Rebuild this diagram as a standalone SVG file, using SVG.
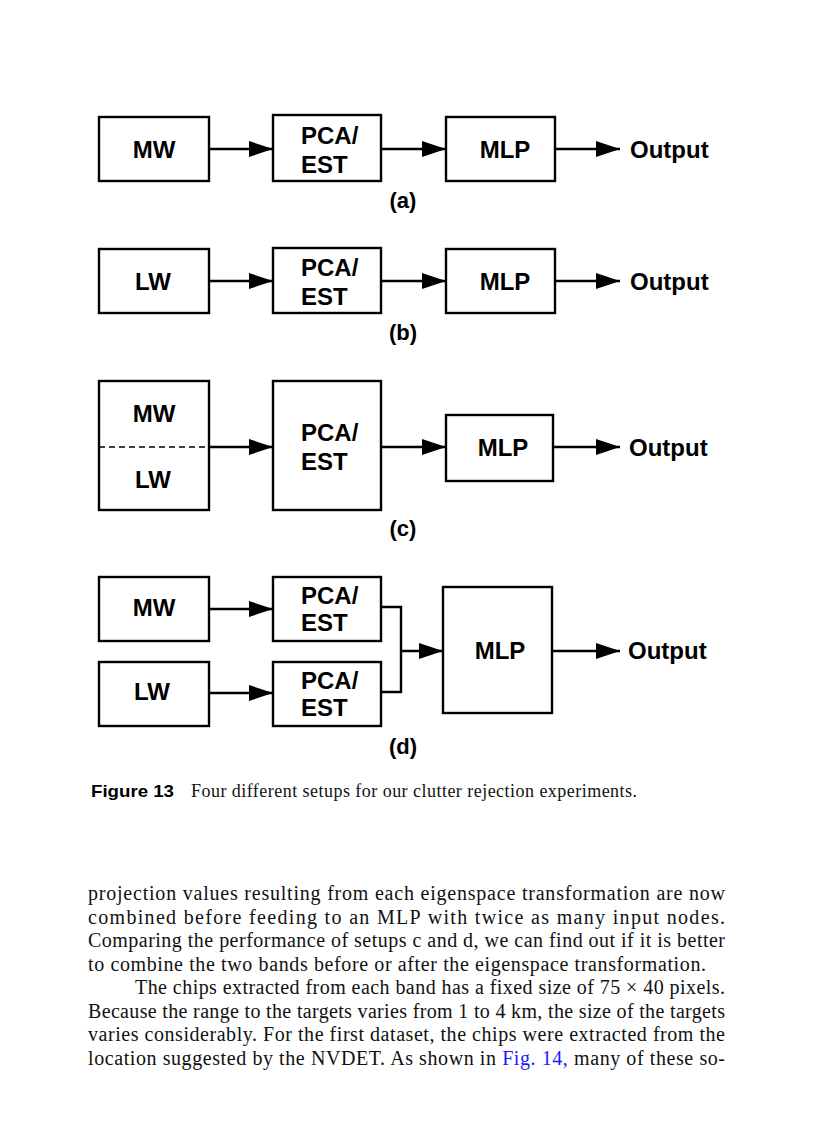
<svg xmlns="http://www.w3.org/2000/svg" width="816" height="1123" viewBox="0 0 816 1123">
<defs>
<marker id="ah" markerWidth="26" markerHeight="18" refX="24" refY="8" orient="auto" markerUnits="userSpaceOnUse">
<path d="M0,0 L24,8 L0,16 Z" fill="#000"/>
</marker>
<style>
.box{fill:#fff;stroke:#000;stroke-width:2.4}
.lbl{font-family:"Liberation Sans",Arial,sans-serif;font-weight:bold;font-size:24px;fill:#000}
.cap{font-family:"Liberation Sans",Arial,sans-serif;font-weight:bold;font-size:22px;fill:#000}
.ln{fill:none;stroke:#000;stroke-width:2.4}
.arr{fill:none;stroke:#000;stroke-width:2.4;marker-end:url(#ah)}
.body{font-family:"Liberation Serif","Times New Roman",serif;font-size:20px;fill:#111}
</style>
</defs>
<rect width="816" height="1123" fill="#fff"/>

<!-- Panel (a) -->
<g id="a-mw"><rect class="box" x="99" y="117" width="110" height="64"/><text class="lbl" x="154" y="158" text-anchor="middle">MW</text></g>
<g id="a-pca"><rect class="box" x="273" y="115" width="108" height="66"/><text class="lbl" x="301" y="144">PCA/</text><text class="lbl" x="301" y="173">EST</text></g>
<g id="a-mlp"><rect class="box" x="446" y="117" width="109" height="64"/><text class="lbl" x="505" y="158" text-anchor="middle">MLP</text></g>
<g id="a-out"><text class="lbl" x="630" y="158">Output</text></g>
<text class="cap" x="403" y="208" text-anchor="middle">(a)</text>

<!-- Panel (b) -->
<g id="b-lw"><rect class="box" x="99" y="249" width="110" height="64"/><text class="lbl" x="153" y="290" text-anchor="middle">LW</text></g>
<g id="b-pca"><rect class="box" x="273" y="248" width="108" height="65"/><text class="lbl" x="301" y="276">PCA/</text><text class="lbl" x="301" y="305">EST</text></g>
<g id="b-mlp"><rect class="box" x="446" y="249" width="109" height="64"/><text class="lbl" x="505" y="290" text-anchor="middle">MLP</text></g>
<g id="b-out"><text class="lbl" x="630" y="290">Output</text></g>
<text class="cap" x="403" y="340" text-anchor="middle">(b)</text>

<!-- Panel (c) -->
<g id="c-mwlw"><rect class="box" x="99" y="381" width="110" height="129"/>
<line x1="99" y1="447" x2="209" y2="447" stroke="#000" stroke-width="1.6" stroke-dasharray="6,4"/>
<text class="lbl" x="154" y="422" text-anchor="middle">MW</text><text class="lbl" x="153" y="488" text-anchor="middle">LW</text></g>
<g id="c-pca"><rect class="box" x="273" y="381" width="108" height="129"/><text class="lbl" x="301" y="441">PCA/</text><text class="lbl" x="301" y="470">EST</text></g>
<g id="c-mlp"><rect class="box" x="446" y="415" width="107" height="66"/><text class="lbl" x="503" y="456" text-anchor="middle">MLP</text></g>
<g id="c-out"><text class="lbl" x="629" y="456">Output</text></g>
<text class="cap" x="403" y="536" text-anchor="middle">(c)</text>

<!-- Panel (d) -->
<g id="d-mw"><rect class="box" x="99" y="577" width="110" height="64"/><text class="lbl" x="154" y="616" text-anchor="middle">MW</text></g>
<g id="d-lw"><rect class="box" x="99" y="662" width="110" height="64"/><text class="lbl" x="152" y="700" text-anchor="middle">LW</text></g>
<g id="d-pca1"><rect class="box" x="273" y="577" width="108" height="64"/><text class="lbl" x="301" y="604">PCA/</text><text class="lbl" x="301" y="631">EST</text></g>
<g id="d-pca2"><rect class="box" x="273" y="662" width="108" height="64"/><text class="lbl" x="301" y="689">PCA/</text><text class="lbl" x="301" y="716">EST</text></g>
<g id="d-mlp"><rect class="box" x="443" y="587" width="109" height="126"/><text class="lbl" x="500" y="659" text-anchor="middle">MLP</text></g>
<g id="d-out"><text class="lbl" x="628" y="659">Output</text></g>
<text class="cap" x="403" y="754" text-anchor="middle">(d)</text>

<!-- Connectors -->
<g id="connectors">
<line class="arr" x1="209" y1="149" x2="273" y2="149"/>
<line class="arr" x1="381" y1="149" x2="446" y2="149"/>
<line class="arr" x1="555" y1="149" x2="620" y2="149"/>
<line class="arr" x1="209" y1="281" x2="273" y2="281"/>
<line class="arr" x1="381" y1="281" x2="446" y2="281"/>
<line class="arr" x1="555" y1="281" x2="620" y2="281"/>
<line class="arr" x1="209" y1="447" x2="273" y2="447"/>
<line class="arr" x1="381" y1="447" x2="446" y2="447"/>
<line class="arr" x1="553" y1="447" x2="620" y2="447"/>
<line class="arr" x1="209" y1="609" x2="273" y2="609"/>
<line class="arr" x1="209" y1="693" x2="273" y2="693"/>
<path class="ln" d="M381,607 H401 V692 H381"/>
<line class="arr" x1="401" y1="651" x2="443" y2="651"/>
<line class="arr" x1="552" y1="651" x2="620" y2="651"/>
</g>

<!-- Caption -->
<text x="91" y="797" font-family="'Liberation Sans',Arial,sans-serif" font-weight="bold" font-size="17" fill="#000" textLength="83" lengthAdjust="spacingAndGlyphs">Figure 13</text>
<text x="191" y="797" font-family="'Liberation Serif','Times New Roman',serif" font-size="18" fill="#111" textLength="446" lengthAdjust="spacing">Four different setups for our clutter rejection experiments.</text>

<!-- Body text -->
<g class="body">
<text x="88" y="900" textLength="637" lengthAdjust="spacing">projection values resulting from each eigenspace transformation are now</text>
<text x="88" y="923.5" textLength="637" lengthAdjust="spacing">combined before feeding to an MLP with twice as many input nodes.</text>
<text x="88" y="947" textLength="637" lengthAdjust="spacing">Comparing the performance of setups c and d, we can find out if it is better</text>
<text x="88" y="970.5" textLength="618" lengthAdjust="spacing">to combine the two bands before or after the eigenspace transformation.</text>
<text x="135" y="994" textLength="590" lengthAdjust="spacing">The chips extracted from each band has a fixed size of 75 × 40 pixels.</text>
<text x="88" y="1017.5" textLength="637" lengthAdjust="spacing">Because the range to the targets varies from 1 to 4 km, the size of the targets</text>
<text x="88" y="1041" textLength="637" lengthAdjust="spacing">varies considerably. For the first dataset, the chips were extracted from the</text>
<text x="88" y="1064.5" textLength="637" lengthAdjust="spacing">location suggested by the NVDET. As shown in <tspan fill="#1a1aff">Fig. 14,</tspan> many of these so-</text>
</g>
</svg>
